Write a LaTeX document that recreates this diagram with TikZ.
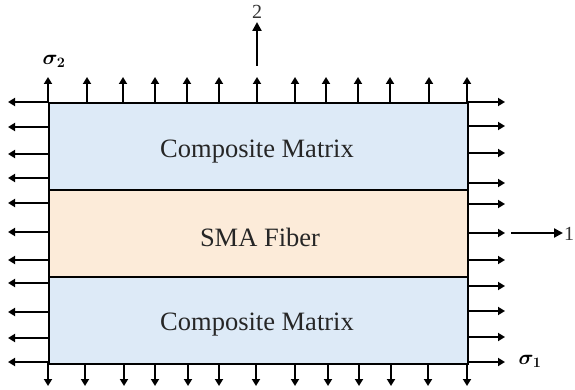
\documentclass[tikz,border=0pt]{standalone}
\usepackage{fontspec}
\usepackage{amsmath,bm}
\setmainfont{Liberation Serif}
\usetikzlibrary{arrows.meta}
\definecolor{matblue}{RGB}{221,234,247}
\definecolor{fibtan}{RGB}{252,235,217}
\tikzset{
  layer/.style={draw=black, line width=2.4pt, anchor=north west, inner sep=0pt,
    minimum width=419pt, minimum height=87pt},
  stressarrow/.style={line width=2pt, -{Triangle[length=7pt,width=8pt]}},
  axisarrow/.style={line width=2.4pt, -{Triangle[length=9pt,width=9pt]}},
  laytext/.style={font=\fontsize{26.5}{30}\selectfont, text=black!85},
  axlabel/.style={font=\fontsize{20}{24}\selectfont, inner sep=0pt, text=black!80},
  siglabel/.style={inner sep=0pt, font=\fontsize{22}{26}\selectfont},
}
\begin{document}
\begin{tikzpicture}[x=1pt,y=-1pt]
\useasboundingbox (0,0) rectangle (575,390);
% stress arrows (drawn first so the box edges sit on top)
\foreach \x in {48,87,123,155,187,219,257,295,326,358,390,429,467}
  \draw[stressarrow] (\x,102) -- (\x,77);
\foreach \x in {48,85,124,155,188,219,256,295,328,359,391,428,467}
  \draw[stressarrow] (\x,362) -- (\x,386);
\foreach \y in {102,127,154,178,203,232,260,283,312,338,362}
  \draw[stressarrow] (48,\y) -- (8,\y);
\foreach \y in {102,126,153,183,204,233,260,286,311,337,362}
  \draw[stressarrow] (467,\y) -- (505,\y);
% layers
\node[layer, fill=matblue] (top) at (48,102) {};
\node[layer, fill=fibtan] (mid) at (48,189) {};
\node[layer, fill=matblue] (bot) at (48,276) {};
\node[laytext] (ttop) at (257,152) {Composite Matrix};
\node[laytext] (tmid) at (260,237) {SMA Fiber};
\node[laytext] (tbot) at (257,325) {Composite Matrix};
% axes
\coordinate (a2s) at (257,66);
\coordinate (a2e) at (257,22);
\draw[axisarrow] (a2s) -- (a2e);
\node[axlabel] (l2) at (257,12) {2};
\coordinate (a1s) at (511,233);
\coordinate (a1e) at (563,233);
\draw[axisarrow] (a1s) -- (a1e);
\node[axlabel, anchor=west] (l1) at (564,234) {1};
% stress labels
\node[siglabel] (s2) at (54,61) {$\bm{\sigma_2}$};
\node[siglabel] (s1) at (530,361) {$\bm{\sigma_1}$};
\end{tikzpicture}
\end{document}
